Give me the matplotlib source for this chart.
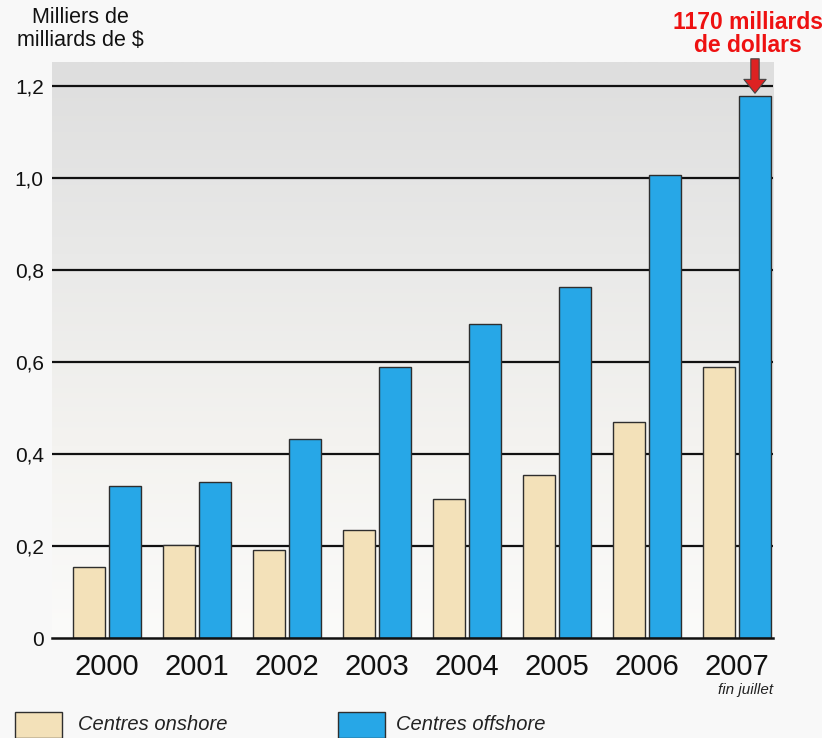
import matplotlib
matplotlib.use("Agg")
import matplotlib.pyplot as plt
import numpy as np
from matplotlib.patches import Rectangle
from matplotlib.colors import LinearSegmentedColormap

plt.rcParams['font.family'] = ['Liberation Sans', 'DejaVu Sans']

years = ["2000", "2001", "2002", "2003", "2004", "2005", "2006", "2007"]
onshore = [0.154, 0.202, 0.191, 0.235, 0.302, 0.354, 0.470, 0.589]
offshore = [0.330, 0.339, 0.433, 0.589, 0.683, 0.763, 1.007, 1.178]
yticks = [0, 0.2, 0.4, 0.6, 0.8, 1.0, 1.2]
ytick_labels = ["0", "0,2", "0,4", "0,6", "0,8", "1,0", "1,2"]

c_on = "#f3e1b9"
c_off = "#27a7e7"
edge = "#2e2e2e"

fig = plt.figure(figsize=(8.22, 7.38), dpi=100)
fig.patch.set_facecolor("#f8f8f8")
ax = fig.add_axes([52/822, 1-638/738, (773-52)/822, (638-62)/738])
ax.set_facecolor("none")

x = np.arange(len(years))
ax.set_xlim(-0.61, 7.4)
ax.set_ylim(0, 1.252)

# gradient background
grad = np.linspace(0, 1, 256).reshape(-1, 1)
cmap = LinearSegmentedColormap.from_list("g", ["#fbfbfa", "#f4f3f0", "#e9e9e8", "#dedede"])
ax.imshow(grad, aspect="auto", cmap=cmap, origin="lower",
          extent=[-0.61, 7.4, 0, 1.252], zorder=0)

for yv in yticks[1:]:
    ax.axhline(yv, color="#111111", lw=1.6, zorder=1)

w = 0.35
ax.bar(x - 0.2, onshore, w, color=c_on, edgecolor=edge, linewidth=1.0, zorder=2)
ax.bar(x + 0.2, offshore, w, color=c_off, edgecolor=edge, linewidth=1.0, zorder=2)

for s in ["top", "right", "left"]:
    ax.spines[s].set_visible(False)
ax.spines["bottom"].set_linewidth(1.8)
ax.spines["bottom"].set_color("#111111")
ax.spines["bottom"].set_zorder(3)

ax.set_yticks(yticks)
ax.set_yticklabels(ytick_labels, fontsize=15, color="#111111")
ax.set_xticks(x)
ax.set_xticklabels(years, fontsize=21, color="#111111")
ax.tick_params(axis="y", length=0, pad=6)
ax.tick_params(axis="x", length=0, pad=11)

ax.text(7.4, -0.114, "fin juillet", fontsize=11, style="italic",
        ha="right", va="center", color="#222222")

fig.text(80/822, 1-29/738, "Milliers de\nmilliards de $", fontsize=15.5,
         ha="center", va="center", multialignment="center",
         color="#111111", linespacing=1.1)

fig.text(748/822, 1-34/738, "1170 milliards\nde dollars", fontsize=16.5,
         fontweight="bold", color="#ee1111", ha="center", va="center",
         linespacing=1.05)

ax.annotate("", xy=(7.2, 1.178), xytext=(7.2, 1.265),
            arrowprops=dict(arrowstyle="simple,head_width=1.6,head_length=1.0,tail_width=0.6",
                            fc="#dd2222", ec="#444444", lw=0.8),
            annotation_clip=False, zorder=5)

# legend
fig.patches.append(Rectangle((15/822, 1-738/738), 47/822, 26/738,
                             transform=fig.transFigure, facecolor=c_on,
                             edgecolor=edge, lw=1.0))
fig.text(78/822, 1-724/738, "Centres onshore", fontsize=14.5, style="italic",
         ha="left", va="center", color="#222222")
fig.patches.append(Rectangle((338/822, 1-738/738), 47/822, 26/738,
                             transform=fig.transFigure, facecolor=c_off,
                             edgecolor=edge, lw=1.0))
fig.text(396/822, 1-724/738, "Centres offshore", fontsize=14.5, style="italic",
         ha="left", va="center", color="#222222")

fig.savefig("out.png", dpi=100, facecolor=fig.get_facecolor())
